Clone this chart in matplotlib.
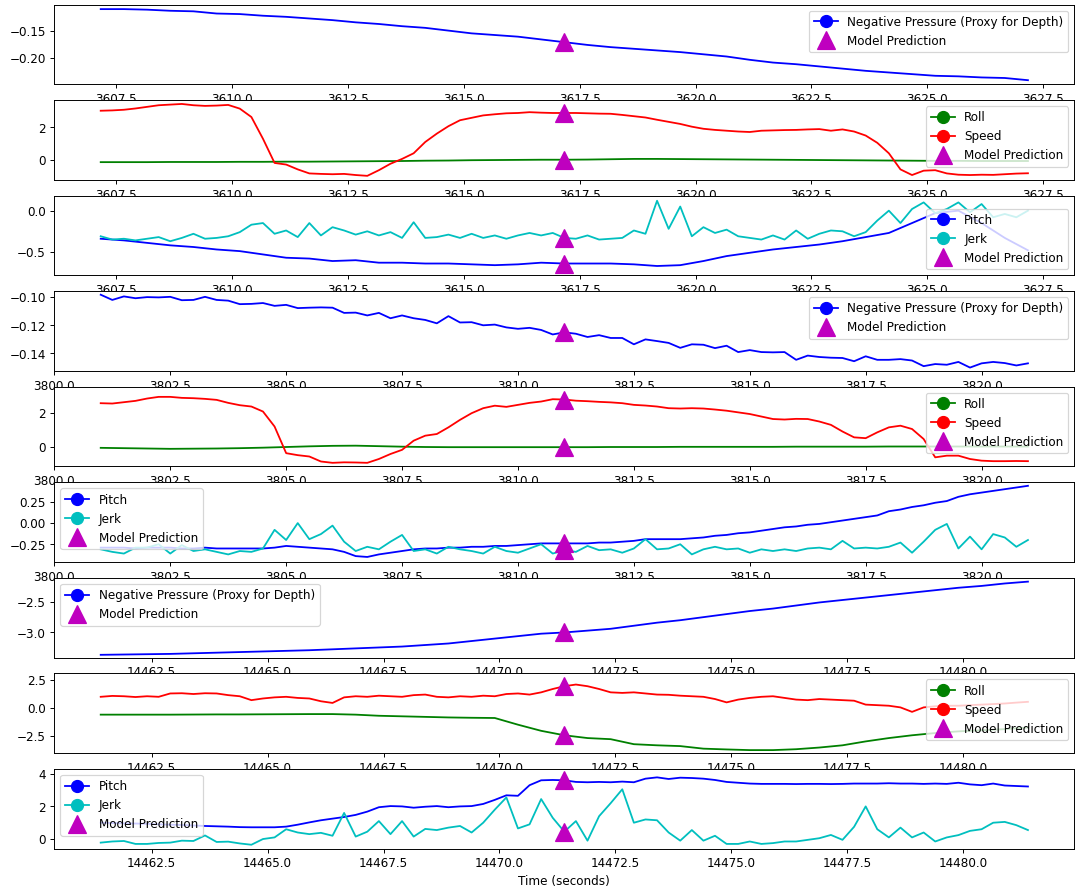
import numpy as np
import matplotlib
matplotlib.use("Agg")
import matplotlib.pyplot as plt
from matplotlib.lines import Line2D
from matplotlib.ticker import MultipleLocator

# start time (s) of each 20 s window; the model prediction sits 10 s in
win_start = [3607.17, 3801.0, 14461.4]
pred_offset = 10.0
win_len = 20.0

# ---- window 1 ----
depth_1 = [-0.111, -0.111, -0.112, -0.114, -0.115, -0.119, -0.120, -0.123, -0.125, -0.128,
           -0.131, -0.135, -0.138, -0.142, -0.145, -0.150, -0.155, -0.158, -0.161, -0.166,
           -0.171, -0.176, -0.180, -0.183, -0.186, -0.189, -0.193, -0.197, -0.203, -0.208,
           -0.211, -0.215, -0.219, -0.223, -0.226, -0.229, -0.232, -0.233, -0.235, -0.236,
           -0.240]
roll_1 = [-0.15, -0.15, -0.15, -0.14, -0.14, -0.14, -0.13, -0.13, -0.12, -0.12,
          -0.11, -0.10, -0.09, -0.08, -0.06, -0.05, -0.03, -0.02, -0.01, 0.00,
          0.00, 0.01, 0.03, 0.05, 0.05, 0.04, 0.03, 0.02, 0.01, 0.00,
          -0.01, -0.02, -0.03, -0.04, -0.05, -0.06, -0.07, -0.07, -0.08, -0.08,
          -0.08]
speed_1 = [3.04, 3.06, 3.10, 3.18, 3.28, 3.38, 3.42, 3.46, 3.38, 3.34,
           3.36, 3.40, 3.17, 2.65, 1.30, -0.20, -0.30, -0.60, -0.85, -0.88,
           -0.90, -0.88, -0.95, -1.00, -0.65, -0.25, 0.05, 0.40, 1.10, 1.62,
           2.08, 2.45, 2.60, 2.75, 2.82, 2.88, 2.90, 2.95, 2.92, 2.90,
           2.90, 2.90, 2.88, 2.86, 2.85, 2.78, 2.70, 2.62, 2.48, 2.35,
           2.22, 2.05, 1.92, 1.85, 1.80, 1.75, 1.72, 1.80, 1.82, 1.84,
           1.85, 1.88, 1.90, 1.80, 1.88, 1.75, 1.50, 1.05, 0.40, -0.60,
           -0.95, -0.68, -0.65, -0.85, -0.93, -0.95, -0.93, -0.94, -0.90, -0.86,
           -0.84]
pitch_1 = [-0.34, -0.36, -0.39, -0.42, -0.44, -0.47, -0.49, -0.53, -0.57, -0.58,
           -0.61, -0.60, -0.63, -0.63, -0.64, -0.64, -0.65, -0.66, -0.65, -0.63,
           -0.64, -0.64, -0.64, -0.65, -0.67, -0.66, -0.61, -0.55, -0.51, -0.47,
           -0.44, -0.41, -0.37, -0.32, -0.27, -0.15, -0.03, 0.00, -0.15, -0.33,
           -0.48]
jerk_1 = [-0.31, -0.35, -0.34, -0.36, -0.34, -0.32, -0.37, -0.33, -0.28, -0.34,
          -0.33, -0.31, -0.26, -0.17, -0.15, -0.28, -0.24, -0.32, -0.15, -0.30,
          -0.20, -0.24, -0.29, -0.25, -0.30, -0.26, -0.33, -0.14, -0.33, -0.32,
          -0.29, -0.33, -0.28, -0.33, -0.30, -0.34, -0.30, -0.27, -0.30, -0.27,
          -0.33, -0.34, -0.30, -0.35, -0.34, -0.33, -0.24, -0.28, 0.12, -0.22,
          0.05, -0.31, -0.20, -0.27, -0.23, -0.31, -0.33, -0.35, -0.30, -0.35,
          -0.24, -0.34, -0.28, -0.24, -0.25, -0.31, -0.26, -0.12, 0.00, -0.15,
          0.02, 0.10, -0.03, 0.02, 0.10, -0.02, 0.08, -0.08, -0.04, -0.08,
          0.00]

# ---- window 2 ----
depth_2 = [-0.0983, -0.1020, -0.0995, -0.1008, -0.1000, -0.1002, -0.0998, -0.1022, -0.1020, -0.0998,
           -0.1020, -0.1025, -0.1050, -0.1048, -0.1042, -0.1062, -0.1055, -0.1078, -0.1075, -0.1073,
           -0.1075, -0.1112, -0.1110, -0.1130, -0.1112, -0.1150, -0.1130, -0.1150, -0.1162, -0.1186,
           -0.1135, -0.1180, -0.1178, -0.1200, -0.1195, -0.1215, -0.1225, -0.1218, -0.1233, -0.1265,
           -0.1250, -0.1260, -0.1283, -0.1270, -0.1290, -0.1290, -0.1335, -0.1300, -0.1312, -0.1325,
           -0.1360, -0.1335, -0.1338, -0.1362, -0.1345, -0.1390, -0.1376, -0.1390, -0.1392, -0.1390,
           -0.1445, -0.1415, -0.1425, -0.1430, -0.1432, -0.1455, -0.1420, -0.1445, -0.1445, -0.1440,
           -0.1450, -0.1490, -0.1475, -0.1480, -0.1460, -0.1500, -0.1470, -0.1460, -0.1468, -0.1485,
           -0.1470]
roll_2 = [-0.08, -0.10, -0.12, -0.14, -0.13, -0.12, -0.10, -0.07, -0.03, 0.01,
          0.04, 0.05, 0.02, -0.01, -0.03, -0.04, -0.04, -0.04, -0.04, -0.04,
          -0.04, -0.04, -0.03, -0.03, -0.03, -0.02, -0.02, -0.02, -0.02, -0.02,
          -0.01, -0.01, -0.01, -0.01, 0.00, 0.00, 0.00, 0.00, 0.00, 0.00,
          0.00]
speed_2 = [2.60, 2.58, 2.66, 2.74, 2.88, 2.98, 2.98, 2.92, 2.90, 2.86,
           2.80, 2.62, 2.48, 2.40, 2.10, 1.20, -0.40, -0.52, -0.60, -0.90,
           -0.98, -0.95, -0.96, -0.98, -0.75, -0.45, -0.20, 0.35, 0.65, 0.75,
           1.15, 1.60, 2.00, 2.30, 2.45, 2.38, 2.50, 2.62, 2.70, 2.84,
           2.82, 2.75, 2.72, 2.68, 2.65, 2.60, 2.50, 2.46, 2.40, 2.30,
           2.28, 2.30, 2.28, 2.22, 2.15, 2.05, 1.95, 1.80, 1.65, 1.62,
           1.66, 1.65, 1.50, 1.30, 0.90, 0.55, 0.50, 0.85, 1.15, 1.25,
           1.05, 0.45, -0.65, -0.55, -0.55, -0.75, -0.85, -0.88, -0.88, -0.87,
           -0.88]
pitch_2 = [-0.29, -0.29, -0.29, -0.30, -0.29, -0.29, -0.29, -0.30, -0.30, -0.29,
           -0.30, -0.30, -0.30, -0.30, -0.30, -0.29, -0.27, -0.28, -0.29, -0.30,
           -0.31, -0.34, -0.39, -0.40, -0.37, -0.35, -0.33, -0.31, -0.30, -0.30,
           -0.29, -0.29, -0.28, -0.28, -0.27, -0.27, -0.26, -0.25, -0.24, -0.24,
           -0.24, -0.24, -0.24, -0.23, -0.23, -0.22, -0.21, -0.19, -0.19, -0.19,
           -0.19, -0.18, -0.17, -0.15, -0.14, -0.12, -0.11, -0.09, -0.07, -0.05,
           -0.04, -0.02, -0.01, 0.01, 0.03, 0.05, 0.07, 0.09, 0.14, 0.16,
           0.19, 0.21, 0.24, 0.26, 0.31, 0.34, 0.36, 0.38, 0.40, 0.42,
           0.44]
jerk_2 = [-0.31, -0.34, -0.36, -0.29, -0.29, -0.25, -0.36, -0.26, -0.33, -0.31,
          -0.34, -0.37, -0.33, -0.34, -0.30, -0.08, -0.20, 0.00, -0.19, -0.13,
          -0.03, -0.22, -0.33, -0.28, -0.31, -0.22, -0.14, -0.33, -0.31, -0.36,
          -0.28, -0.31, -0.33, -0.36, -0.28, -0.33, -0.35, -0.30, -0.25, -0.36,
          -0.32, -0.34, -0.27, -0.32, -0.31, -0.35, -0.30, -0.19, -0.31, -0.30,
          -0.25, -0.37, -0.31, -0.28, -0.31, -0.30, -0.35, -0.31, -0.33, -0.31,
          -0.33, -0.30, -0.29, -0.31, -0.21, -0.30, -0.29, -0.30, -0.28, -0.23,
          -0.35, -0.22, -0.08, -0.01, -0.30, -0.16, -0.31, -0.13, -0.17, -0.28,
          -0.20]

# ---- window 3 ----
depth_3 = [-3.365, -3.36, -3.355, -3.35, -3.34, -3.33, -3.32, -3.31, -3.30, -3.29,
           -3.275, -3.26, -3.245, -3.23, -3.205, -3.18, -3.14, -3.10, -3.06, -3.02,
           -3.00, -2.97, -2.94, -2.89, -2.84, -2.80, -2.75, -2.70, -2.65, -2.61,
           -2.56, -2.51, -2.47, -2.43, -2.39, -2.35, -2.31, -2.27, -2.24, -2.20,
           -2.17]
roll_3 = [-0.60, -0.60, -0.60, -0.60, -0.59, -0.58, -0.58, -0.57, -0.56, -0.55,
          -0.55, -0.60, -0.70, -0.75, -0.80, -0.85, -0.88, -0.90, -1.50, -2.05,
          -2.45, -2.70, -2.80, -3.25, -3.35, -3.42, -3.65, -3.72, -3.78, -3.78,
          -3.70, -3.55, -3.35, -3.00, -2.70, -2.45, -2.25, -2.10, -2.00, -1.90,
          -1.75]
speed_3 = [1.00, 1.08, 1.05, 0.98, 1.05, 1.00, 1.30, 1.32, 1.25, 1.32,
           1.30, 1.15, 1.05, 0.70, 0.85, 0.95, 1.00, 0.90, 0.85, 0.60,
           0.45, 0.95, 1.05, 1.00, 1.10, 1.05, 1.00, 1.15, 1.20, 1.00,
           0.95, 1.05, 1.00, 1.10, 1.05, 1.25, 1.30, 1.20, 1.40, 1.70,
           1.95, 2.10, 1.95, 1.70, 1.40, 1.35, 1.40, 1.30, 1.20, 1.18,
           1.10, 1.05, 1.00, 0.80, 0.50, 0.75, 0.90, 1.00, 1.05, 0.90,
           0.75, 0.70, 0.80, 0.75, 0.70, 0.65, 0.30, 0.25, 0.20, 0.05,
           -0.35, 0.05, 0.15, 0.20, 0.20, 0.25, 0.30, 0.35, 0.40, 0.48,
           0.55]
pitch_3 = [1.00, 0.98, 0.96, 0.95, 0.93, 0.90, 0.88, 0.86, 0.83, 0.80,
           0.78, 0.76, 0.73, 0.72, 0.72, 0.72, 0.76, 0.88, 1.02, 1.15,
           1.25, 1.35, 1.48, 1.68, 1.95, 2.02, 2.00, 1.92, 1.98, 2.02,
           1.95, 2.00, 2.02, 2.15, 2.40, 2.68, 2.65, 3.30, 3.60, 3.62,
           3.60, 3.50, 3.48, 3.50, 3.48, 3.52, 3.48, 3.70, 3.78, 3.68,
           3.76, 3.74, 3.70, 3.62, 3.50, 3.45, 3.40, 3.38, 3.38, 3.38,
           3.37, 3.38, 3.38, 3.37, 3.38, 3.40, 3.40, 3.40, 3.42, 3.40,
           3.40, 3.38, 3.40, 3.38, 3.45, 3.35, 3.30, 3.40, 3.28, 3.25,
           3.22]
jerk_3 = [-0.22, -0.15, -0.12, -0.30, -0.30, -0.24, -0.22, -0.10, -0.12, 0.22,
          -0.18, -0.16, -0.27, -0.35, 0.00, 0.10, 0.60, 0.40, 0.30, 0.38,
          0.20, 1.60, 0.15, 0.45, 1.10, 0.30, 1.10, 0.15, 0.62, 0.55,
          0.70, 0.80, 0.40, 1.00, 1.80, 2.55, 0.65, 0.90, 2.45, 1.30,
          0.45, 1.10, -0.10, 1.40, 2.20, 3.05, 1.00, 1.20, 1.15, 0.40,
          -0.10, 0.55, -0.10, 0.20, -0.30, -0.30, -0.15, -0.30, -0.25, -0.15,
          -0.15, -0.05, 0.05, 0.25, -0.05, 0.75, 2.00, 0.60, 0.10, 0.70,
          0.10, 0.40, -0.15, 0.10, 0.24, 0.50, 0.60, 1.00, 1.05, 0.85,
          0.55]

depth_label = "Negative Pressure (Proxy for Depth)"

# (series, colours, labels, legend loc, y limits, y tick step) for each panel
panels = [
    ([depth_1], ["b"], [depth_label], "upper right", (-0.2475, -0.103), 0.05),
    ([roll_1, speed_1], ["g", "r"], ["Roll", "Speed"], "upper right", (-1.25, 3.69), 2),
    ([pitch_1, jerk_1], ["b", "c"], ["Pitch", "Jerk"], "lower right", (-0.784, 0.18), 0.5),
    ([depth_2], ["b"], [depth_label], "upper right", (-0.1524, -0.0959), 0.02),
    ([roll_2, speed_2], ["g", "r"], ["Roll", "Speed"], "upper right", (-1.2, 3.58), 2),
    ([pitch_2, jerk_2], ["b", "c"], ["Pitch", "Jerk"], "upper left", (-0.46, 0.48), 0.25),
    ([depth_3], ["b"], [depth_label], "upper left", (-3.41, -2.11), 0.5),
    ([roll_3, speed_3], ["g", "r"], ["Roll", "Speed"], "upper right", (-4.05, 3.09), 2.5),
    ([pitch_3, jerk_3], ["b", "c"], ["Pitch", "Jerk"], "upper left", (-0.59, 4.29), 2),
]

dpi = 86.4
fig, axes = plt.subplots(9, 1, figsize=(1078.3 / dpi, 894.3 / dpi))
fig.subplots_adjust(left=0.0504, right=0.9963, top=0.9944, bottom=0.0507, hspace=0.2)

for i, (ax, (series, colors, labels, loc, ylim, ystep)) in enumerate(zip(axes, panels)):
    start = win_start[i // 3]
    pred = start + pred_offset
    times = [start + np.linspace(0, win_len, len(v)) for v in series]

    for t, v, c in zip(times, series, colors):
        ax.plot(t, v, color=c)
    for t, v in zip(times, series):
        ax.plot(pred, np.interp(pred, t, v), "m^", markersize=15)

    handles = [Line2D([], [], color=c, marker="o", markersize=10) for c in colors]
    handles.append(Line2D([], [], color="m", marker="^", linestyle="None", markersize=15))
    ax.legend(handles, labels + ["Model Prediction"], loc=loc)

    ax.set_xlim(start - 1, start + win_len + 1)
    ax.set_ylim(*ylim)
    ax.xaxis.set_major_locator(MultipleLocator(2.5))
    ax.yaxis.set_major_locator(MultipleLocator(ystep))

axes[-1].set_xlabel("Time (seconds)")

fig.savefig("out.png", dpi=dpi)
